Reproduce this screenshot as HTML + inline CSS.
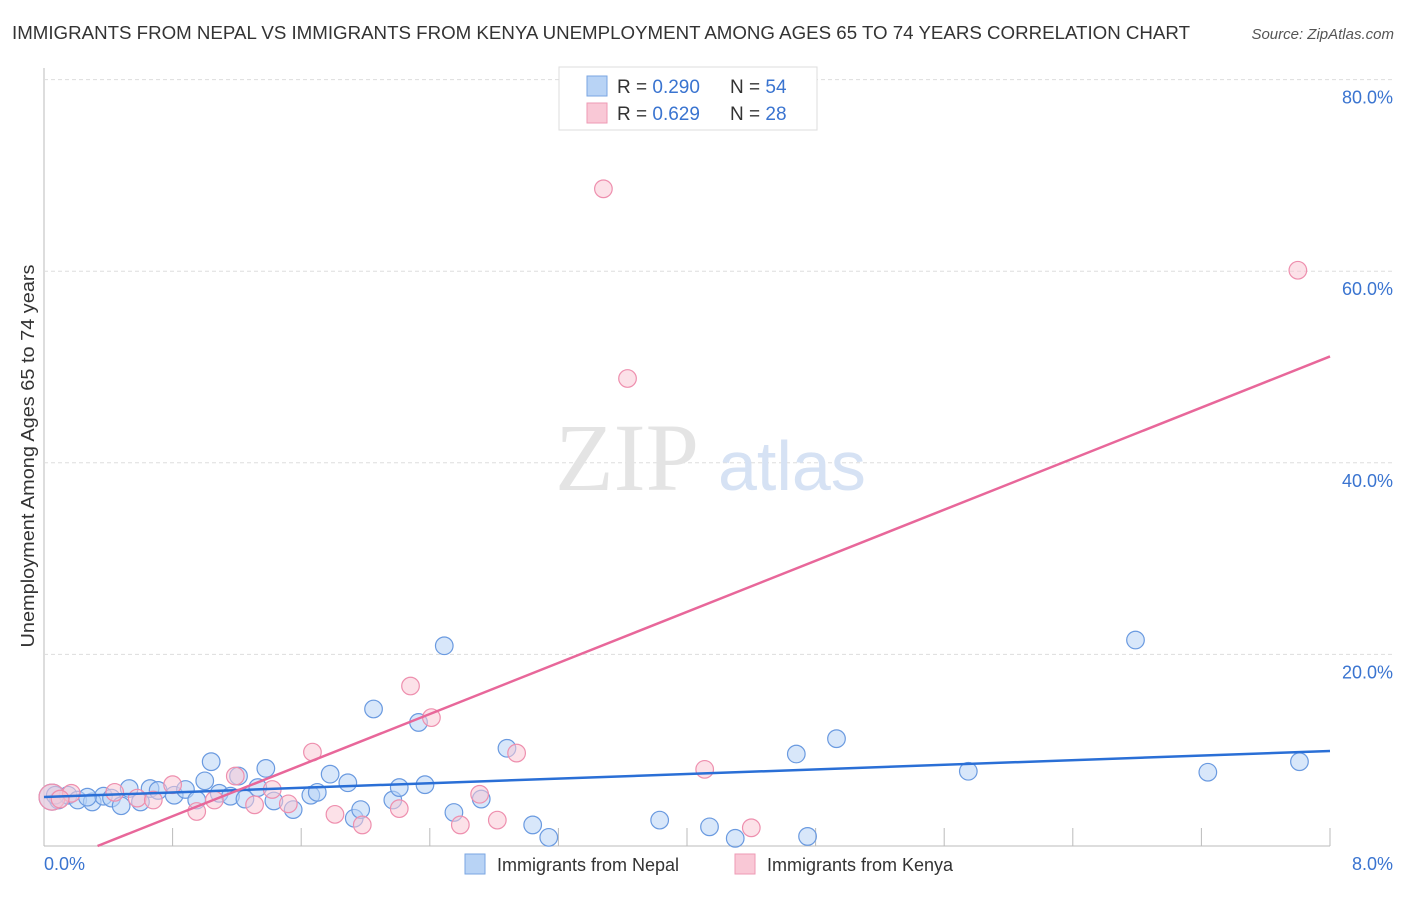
<!DOCTYPE html>
<html><head><meta charset="utf-8"><style>
body{margin:0;background:#fff;font-family:"Liberation Sans",sans-serif}
</style></head><body>
<svg width="1406" height="892" xmlns="http://www.w3.org/2000/svg">
<text x="12" y="39" font-size="18" fill="#333" textLength="1178" lengthAdjust="spacingAndGlyphs">IMMIGRANTS FROM NEPAL VS IMMIGRANTS FROM KENYA UNEMPLOYMENT AMONG AGES 65 TO 74 YEARS CORRELATION CHART</text>
<text x="1394" y="39" font-size="15" fill="#555" font-style="italic" text-anchor="end">Source: ZipAtlas.com</text>
<g id="grid"></g>
<text x="555" y="490" font-size="96" fill="#e4e4e4" font-family="Liberation Serif">ZIP</text>
<text x="718" y="490" font-size="70" fill="#d6e2f4">atlas</text>
<text transform="translate(34,456) rotate(-90)" font-size="18" fill="#333" text-anchor="middle" textLength="383" lengthAdjust="spacingAndGlyphs">Unemployment Among Ages 65 to 74 years</text>
<text x="44" y="870" font-size="18" fill="#3a74d0">0.0%</text>
<text x="1393" y="870" font-size="18" fill="#3a74d0" text-anchor="end">8.0%</text>
<g id="pts"></g>
<g id="lines"></g>
<g>
<rect x="559" y="67" width="258" height="63" fill="#fff" stroke="#ddd"/>
<rect x="587" y="76" width="20" height="20" fill="#b8d3f5" stroke="#7aa6e2"/>
<text x="617" y="93" font-size="19" fill="#333">R = <tspan fill="#3a74d0">0.290</tspan><tspan x="730">N = </tspan><tspan fill="#3a74d0">54</tspan></text>
<rect x="587" y="103" width="20" height="20" fill="#f9c8d6" stroke="#ee9ab4"/>
<text x="617" y="120" font-size="19" fill="#333">R = <tspan fill="#3a74d0">0.629</tspan><tspan x="730">N = </tspan><tspan fill="#3a74d0">28</tspan></text>
</g>
<g>
<rect x="465" y="854" width="20" height="20" fill="#b8d3f5" stroke="#7aa6e2"/>
<text x="497" y="871" font-size="18" fill="#333">Immigrants from Nepal</text>
<rect x="735" y="854" width="20" height="20" fill="#f9c8d6" stroke="#ee9ab4"/>
<text x="767" y="871" font-size="18" fill="#333">Immigrants from Kenya</text>
</g>
</svg>
<script>
const yTicks=[20,40,60,80];
const yTickLabels=["20.0%","40.0%","60.0%","80.0%"];
const xTicks=[0,0.8,1.6,2.4,3.2,4,4.8,5.6,6.4,7.2,8];
const nepalX=[0.05,0.09,0.15,0.21,0.30,0.37,0.42,0.48,0.53,0.60,0.66,0.71,0.81,0.88,0.95,1.00,1.04,1.09,1.16,1.21,1.25,1.33,1.38,1.43,1.55,1.66,1.70,1.78,1.89,1.93,1.97,2.05,2.17,2.21,2.33,2.37,2.49,2.55,2.72,2.88,3.04,3.14,3.83,4.14,4.30,4.68,4.75,4.93,5.75,6.79,7.24,7.81,0.07,0.27];
const nepalY=[5.1,4.8,5.3,4.8,4.6,5.2,5.0,4.2,6.0,4.6,6.0,5.8,5.3,5.9,4.8,6.8,8.8,5.5,5.2,7.3,4.9,6.1,8.1,4.7,3.8,5.3,5.6,7.5,6.6,2.9,3.8,14.3,4.8,6.1,12.9,6.4,20.9,3.5,4.9,10.2,2.2,0.9,2.7,2.0,0.8,9.6,1.0,11.2,7.8,21.5,7.7,8.8,5.3,5.1];
const kenyaX=[0.05,0.17,0.44,0.58,0.68,0.80,0.95,1.06,1.19,1.31,1.42,1.52,1.67,1.81,1.98,2.21,2.28,2.41,2.59,2.71,2.82,2.94,3.48,3.63,4.11,4.40,7.80,0.10];
const kenyaY=[5.1,5.5,5.6,5.0,4.8,6.4,3.6,4.8,7.3,4.3,5.9,4.4,9.8,3.3,2.2,3.9,16.7,13.4,2.2,5.4,2.7,9.7,68.6,48.8,8.0,1.9,60.1,4.9];
const nepalTrend=[5.11,9.92];
const kenyaTrend=[-2.22,51.1];
const X0=44,X1=1330,Y0=846,PX=(X1-X0)/8,PY=9.58;
const xs=v=>X0+v*PX, ys=v=>Y0-v*PY;
const NS="http://www.w3.org/2000/svg";
function mk(tag,attrs,parent){const e=document.createElementNS(NS,tag);for(const k in attrs)e.setAttribute(k,attrs[k]);parent.appendChild(e);return e;}
const grid=document.getElementById('grid');
let ax=mk('line',{x1:X0,y1:68,x2:X0,y2:Y0,stroke:'#bbb'},grid);


let bx=mk('line',{x1:X0,y1:Y0,x2:X1,y2:Y0,stroke:'#bbb'},grid);


yTicks.forEach((t,i)=>{
 const g=mk('line',{x1:X0,y1:ys(t),x2:1394,y2:ys(t),stroke:'#ddd','stroke-dasharray':'4,3'},grid);
 
 
 const l=mk('text',{x:1393,y:ys(t)+24,'font-size':18,fill:'#3a74d0','text-anchor':'end'},grid);
 l.textContent=yTickLabels[i];
 
 
});
xTicks.forEach(t=>{
 const g=mk('line',{x1:xs(t),y1:Y0,x2:xs(t),y2:Y0-18,stroke:'#bbb'},grid);
 
 
});
const pts=document.getElementById('pts');
function series(X,Y,fill,stroke,name){X.forEach((x,i)=>{
 const r=i===0?13:8.8;
 const c=mk('circle',{cx:xs(x),cy:ys(Y[i]),r:r,fill:fill,'fill-opacity':0.55,stroke:stroke,'stroke-width':1.2},pts);
 
 
});}
series(nepalX,nepalY,'#b8d3f5','#6a9ae0','nepal-point');
series(kenyaX,kenyaY,'#f9c8d6','#ee8fae','kenya-point');
const lines=document.getElementById('lines');
let nl=mk('line',{x1:xs(0),y1:ys(nepalTrend[0]),x2:xs(8),y2:ys(nepalTrend[1]),stroke:'#2a6fd6','stroke-width':2.5},lines);


const slope=(kenyaTrend[1]-kenyaTrend[0])/8, xs0=-kenyaTrend[0]/slope;
let kl=mk('line',{x1:xs(xs0),y1:ys(0),x2:xs(8),y2:ys(kenyaTrend[1]),stroke:'#e8679a','stroke-width':2.5},lines);


</script>
</body></html>
